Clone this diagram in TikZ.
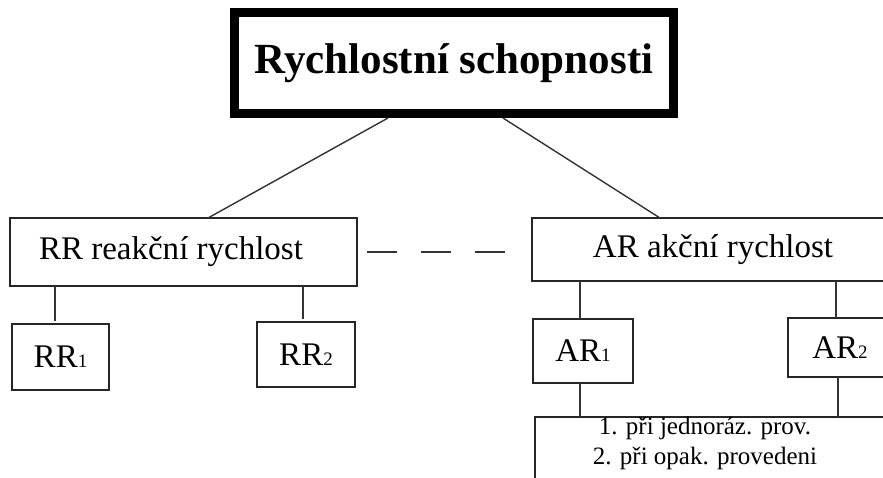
\documentclass[tikz,border=0pt]{standalone}
\usepackage{fontspec}
\setmainfont{Liberation Serif}
\begin{document}
\begin{tikzpicture}[x=1pt,y=-1pt,
  box/.style={draw=black!85, line width=1.4pt, inner sep=0pt, outer sep=0pt},
  conn/.style={draw=black!80, line width=1.4pt},
  big/.style={font=\fontsize{33}{38}\selectfont},
  sub/.style={font=\fontsize{33}{38}\selectfont}]
\newcommand{\ssub}[1]{{\fontsize{19}{19}\selectfont #1}}
\useasboundingbox (0,0) rectangle (883,477);
\clip (0,0) rectangle (883,477);
\fill[white] (0,0) rectangle (883,477);
% title
\node[draw=black, line width=9pt, inner sep=0pt, minimum width=439pt, minimum height=101pt,
  font=\bfseries\fontsize{43}{50}\selectfont] (title) at (454,63) {Rychlostní schopnosti};
% level 2
\node[box, big, minimum width=347pt, minimum height=68pt] (rr) at (183.5,252) {\hspace*{-25pt}RR reakční rychlost};
\node[box, big, minimum width=362pt, minimum height=63pt] (ar) at (713,249.5) {AR akční rychlost};
% level 3
\node[box, sub, minimum width=97pt, minimum height=66pt] (rr1) at (60.5,357) {RR\ssub{1}};
\node[box, sub, minimum width=98pt, minimum height=65pt] (rr2) at (306,354.5) {RR\ssub{2}};
\node[box, sub, minimum width=100pt, minimum height=64pt] (ar1) at (583,351) {AR\ssub{1}};
\node[box, sub, minimum width=104pt, minimum height=59pt] (ar2) at (840,347.5) {AR\ssub{2}};
% bottom list box
\node[box, minimum width=370pt, minimum height=100pt, anchor=north west] (list) at (535,417) {};
\node[font=\fontsize{25}{30}\selectfont, align=center, inner sep=0pt] (listtext) at (705,443)
  {1. při jednoráz. prov.\\2. při opak. provedeni};
% connectors
\draw[conn] ([xshift=-66pt]title.south) -- ([xshift=24.5pt]rr.north);
\draw[conn] ([xshift=49pt]title.south) -- ([xshift=-53pt]ar.north);
\draw[conn, dash pattern=on 30pt off 24pt, shorten <=10pt, shorten >=27pt] (rr.east) -- (rr.east -| ar.west);
\draw[conn, shorten <=3pt] ([xshift=-5.5pt]rr1.north) -- ([xshift=-5.5pt]rr1.north |- rr.south);
\draw[conn, shorten <=3pt] ([xshift=-3pt]rr2.north) -- ([xshift=-3pt]rr2.north |- rr.south);
\draw[conn] ([xshift=-3pt]ar1.north) -- ([xshift=-3pt]ar1.north |- ar.south);
\draw[conn] ([xshift=-4pt]ar2.north) -- ([xshift=-4pt]ar2.north |- ar.south);
\draw[conn] ([xshift=-3pt]ar1.south) -- ([xshift=-3pt]ar1.south |- list.north);
\draw[conn] ([xshift=-2pt]ar2.south) -- ([xshift=-2pt]ar2.south |- list.north);
\end{tikzpicture}
\end{document}
